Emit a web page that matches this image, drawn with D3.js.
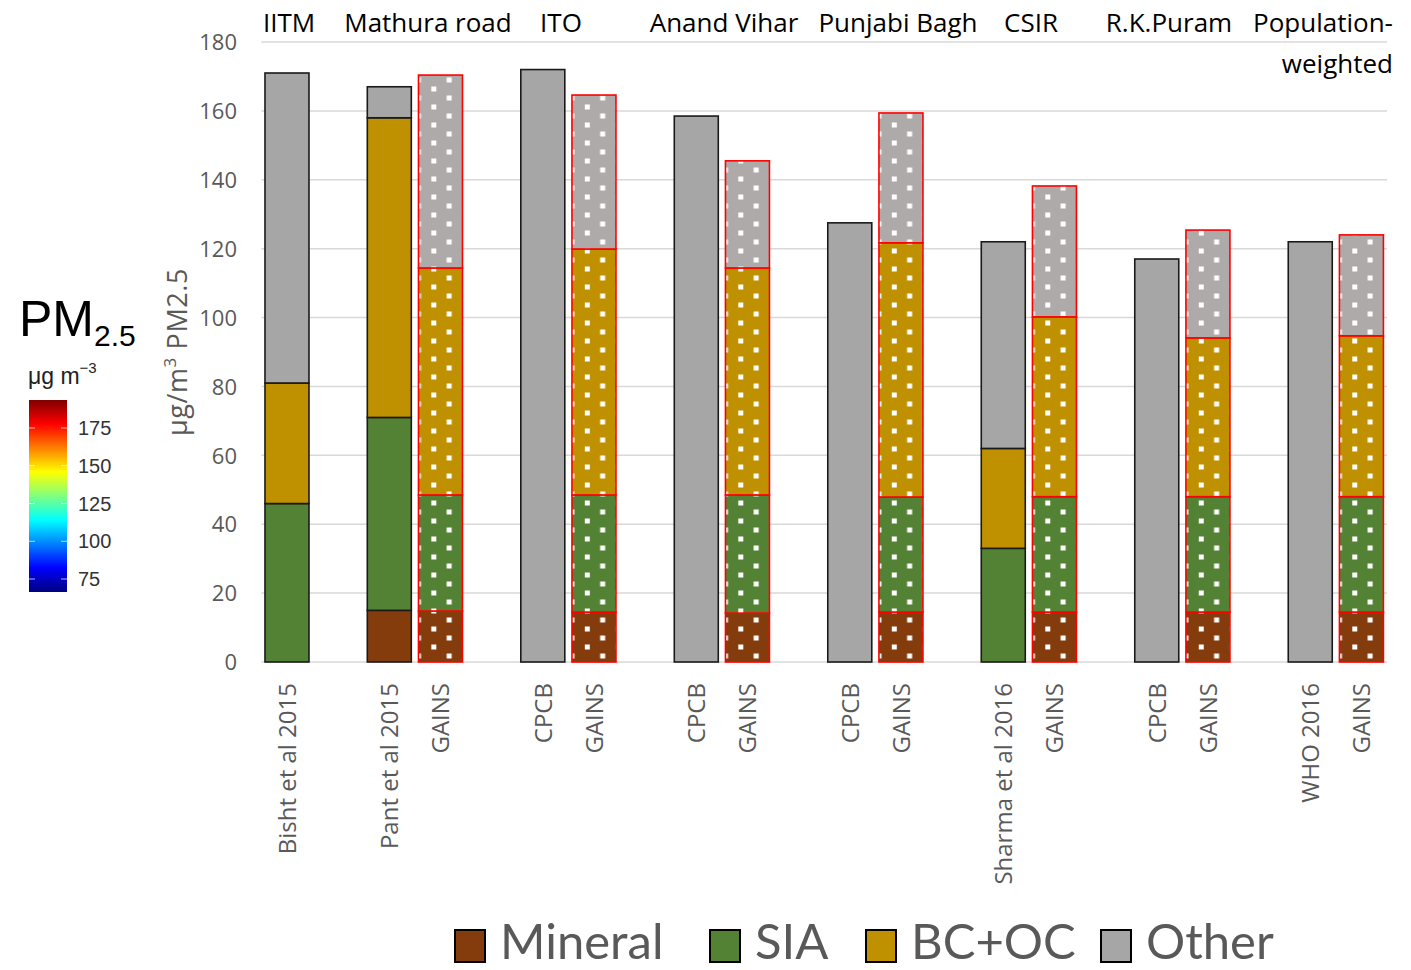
<!DOCTYPE html>
<html>
<head>
<meta charset="utf-8">
<script src="https://cdn.jsdelivr.net/npm/d3@7"></script>
<style>
  html, body { margin: 0; padding: 0; background: #fff; }
  svg { display: block; }
</style>
</head>
<body>
<svg id="chart" width="1411" height="970"></svg>
<script>
// ---- data ----
const components = ["Mineral", "SIA", "BC+OC", "Other"];
const barLabels = ["Bisht et al 2015", "Pant et al 2015", "GAINS", "CPCB", "GAINS", "CPCB", "GAINS",
                   "CPCB", "GAINS", "Sharma et al 2016", "GAINS", "CPCB", "GAINS", "WHO 2016", "GAINS"];
const barSlots = [0, 2, 3, 5, 6, 8, 9, 11, 12, 14, 15, 17, 18, 20, 21];
const mineral = [0, 15, 14.8, 0, 14.5, 0, 14.2, 0, 14.5, 0, 14.5, 0, 14.5, 0, 14.5];
const sia     = [46, 56, 33.7, 0, 34.0, 0, 34.3, 0, 33.4, 33, 33.5, 0, 33.5, 0, 33.5];
const bcoc    = [35, 87, 65.9, 0, 71.4, 0, 65.9, 0, 73.8, 29, 52.2, 0, 46.1, 0, 46.7];
const other   = [90, 9, 56.0, 172, 44.7, 158.5, 31.1, 127.5, 37.7, 60, 38.0, 117, 31.3, 122, 29.3];
const siteLabels = ["IITM", "Mathura road", "ITO", "Anand Vihar", "Punjabi Bagh", "CSIR", "R.K.Puram", "Population-"];
const yTicks = [0, 20, 40, 60, 80, 100, 120, 140, 160, 180];
const cbarTicks = [75, 100, 125, 150, 175];
const nSlots = 22;

// ---- layout ----
const svg = d3.select("#chart");
const W = 1411, H = 970;
svg.append("rect").attr("width", W).attr("height", H).attr("fill", "#fff");

const plot = { left: 261.4, right: 1387, top: 42, bottom: 662 };
const colors = { "Mineral": "#843c0c", "SIA": "#548235", "BC+OC": "#bf9000", "Other": "#a6a6a6" };
const gainsOther = "#aeaaaa";

const x = d3.scaleBand().domain(d3.range(nSlots))
  .range([plot.left, plot.right]).paddingInner(0.14).paddingOuter(0.07);
const y = d3.scaleLinear().domain([0, 180]).range([plot.bottom, plot.top]);

// gridlines
svg.append("g").selectAll("line").data(yTicks).join("line")
  .attr("x1", plot.left).attr("x2", plot.right)
  .attr("y1", d => y(d)).attr("y2", d => y(d))
  .attr("stroke", "#d9d9d9").attr("stroke-width", 1.5);

// y axis tick labels
const yAxis = d3.axisLeft(y).tickValues(yTicks).tickSize(0).tickPadding(0);
const gy = svg.append("g").attr("transform", "translate(237,0)").call(yAxis);
gy.select(".domain").remove();
gy.selectAll("text").attr("font-family", "'Open Sans', sans-serif").attr("font-size", 22)
  .attr("fill", "#595959").attr("dy", "0.35em");

// y axis title
svg.append("text")
  .attr("transform", `translate(187,352) rotate(-90)`)
  .attr("text-anchor", "middle")
  .attr("font-family", "'Open Sans', sans-serif").attr("font-size", 27).attr("fill", "#595959")
  .attr("letter-spacing", 0.6)
  .call(t => {
    t.append("tspan").text("μg/m");
    t.append("tspan").text("3").attr("font-size", 17).attr("dy", -11);
    t.append("tspan").text(" PM2.5").attr("dy", 11);
  });

// dotted fill for the GAINS bars
const defs = svg.append("defs");
const pw = x.step() * 3 / 5, ph = 18;
const pat = defs.append("pattern").attr("id", "dots")
  .attr("patternUnits", "userSpaceOnUse")
  .attr("x", x(3)).attr("y", 80)
  .attr("width", pw).attr("height", ph);
const ds = 5;
[[0, 0], [pw, 0], [0, ph], [pw, ph], [pw / 2, ph / 2]].forEach(([cx, cy]) => {
  pat.append("rect").attr("x", cx - ds / 2).attr("y", cy - ds / 2)
    .attr("width", ds).attr("height", ds).attr("fill", "#fff");
});

// stacked bars
const rows = barLabels.map((lab, i) => ({
  label: lab, slot: barSlots[i], gains: lab === "GAINS",
  "Mineral": mineral[i], "SIA": sia[i], "BC+OC": bcoc[i], "Other": other[i]
}));
const stacked = d3.stack().keys(components)(rows);

const gBars = svg.append("g");
stacked.forEach(layer => {
  layer.forEach(seg => {
    const d = seg.data;
    if (seg[1] - seg[0] <= 0) return;
    const bx = x(d.slot), bw = x.bandwidth();
    const by = y(seg[1]), bh = y(seg[0]) - y(seg[1]);
    const fill = (d.gains && layer.key === "Other") ? gainsOther : colors[layer.key];
    gBars.append("rect").attr("x", bx).attr("y", by).attr("width", bw).attr("height", bh)
      .attr("fill", fill);
    if (d.gains) {
      gBars.append("rect").attr("x", bx).attr("y", by).attr("width", bw).attr("height", bh)
        .attr("fill", "url(#dots)");
    }
    gBars.append("rect").attr("x", bx).attr("y", by).attr("width", bw).attr("height", bh)
      .attr("fill", "none")
      .attr("stroke", d.gains ? "#ff0000" : "#1a1a1a").attr("stroke-width", 1.6);
  });
});

// rotated bar labels
svg.append("g").selectAll("text").data(rows).join("text")
  .attr("transform", d => `translate(${x(d.slot) + x.bandwidth() / 2 + 9},683) rotate(-90)`)
  .attr("text-anchor", "end")
  .attr("font-family", "'Open Sans', sans-serif").attr("font-size", 24).attr("fill", "#595959")
  .text(d => d.label);

// site labels along the top
const sitePos = [289, 428, 561, 724, 898, 1031, 1169, 1393];
const gSites = svg.append("g").attr("font-family", "'Open Sans', sans-serif")
  .attr("font-size", 26).attr("fill", "#000");
siteLabels.forEach((s, i) => {
  const last = i === siteLabels.length - 1;
  gSites.append("text").attr("x", sitePos[i]).attr("y", 32)
    .attr("text-anchor", last ? "end" : "middle").text(s);
});
gSites.append("text").attr("x", sitePos[sitePos.length - 1]).attr("y", 73)
  .attr("text-anchor", "end").text("weighted");

// colour bar
const cb = { x: 29, w: 38, top: 400, bottom: 592 };
const cy = d3.scaleLinear().domain([75, 175]).range([579, 428]);
const jet = [[0, "#00007f"], [0.125, "#0000ff"], [0.375, "#00ffff"], [0.625, "#ffff00"], [0.875, "#ff0000"], [1, "#7f0000"]];
const grad = defs.append("linearGradient").attr("id", "jet")
  .attr("x1", 0).attr("y1", 1).attr("x2", 0).attr("y2", 0);
jet.forEach(([o, c]) => grad.append("stop").attr("offset", o).attr("stop-color", c));
svg.append("rect").attr("x", cb.x).attr("y", cb.top).attr("width", cb.w)
  .attr("height", cb.bottom - cb.top).attr("fill", "url(#jet)");
const gcb = svg.append("g");
cbarTicks.forEach(v => {
  gcb.append("line").attr("x1", cb.x).attr("x2", cb.x + 6).attr("y1", cy(v)).attr("y2", cy(v))
    .attr("stroke", "#fff").attr("stroke-width", 1).attr("opacity", 0.7);
  gcb.append("line").attr("x1", cb.x + cb.w - 6).attr("x2", cb.x + cb.w).attr("y1", cy(v)).attr("y2", cy(v))
    .attr("stroke", "#fff").attr("stroke-width", 1).attr("opacity", 0.7);
  gcb.append("text").attr("x", 78).attr("y", cy(v)).attr("dy", "0.35em")
    .attr("font-family", "'Liberation Sans', Arial, sans-serif").attr("font-size", 20)
    .attr("fill", "#333").text(v);
});

// colour bar title
svg.append("text").attr("x", 19).attr("y", 336)
  .attr("font-family", "'Liberation Sans', Arial, sans-serif").attr("font-size", 50).attr("fill", "#000")
  .call(t => {
    t.append("tspan").text("PM");
    t.append("tspan").text("2.5").attr("font-size", 30).attr("dy", 10);
  });
svg.append("text").attr("x", 28).attr("y", 384)
  .attr("font-family", "'Liberation Sans', Arial, sans-serif").attr("font-size", 23).attr("fill", "#222")
  .call(t => {
    t.append("tspan").text("μg m");
    t.append("tspan").text("−3").attr("font-size", 15).attr("dy", -11);
  });

// legend
const legendX = [455, 710, 866, 1101];
const gLeg = svg.append("g");
components.forEach((k, i) => {
  gLeg.append("rect").attr("x", legendX[i]).attr("y", 930).attr("width", 30).attr("height", 32)
    .attr("fill", colors[k]).attr("stroke", "#000").attr("stroke-width", 2);
  gLeg.append("text")
    .attr("transform", `translate(${legendX[i] + 45},959)`)
    .attr("font-family", "Lato, sans-serif").attr("font-size", 49).attr("fill", "#595959")
    .text(k);
});
</script>
</body>
</html>
